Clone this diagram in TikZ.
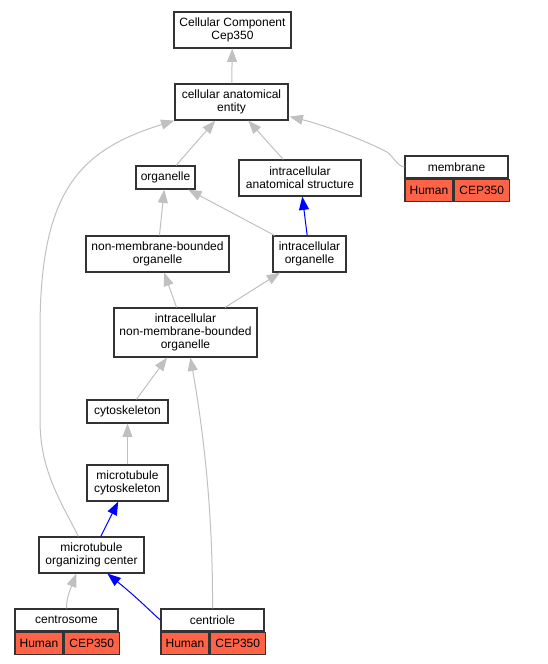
\documentclass[tikz,border=0pt]{standalone}
\usepackage{fontspec}
\setmainfont{Liberation Sans}
\usepackage{xcolor}
\usepackage{tikz}
\usetikzlibrary{positioning}
\usetikzlibrary{calc}
\usetikzlibrary{arrows.meta}
\definecolor{isagray}{RGB}{192,192,192}
\definecolor{tomato}{RGB}{255,99,71}

\begin{document}
\begin{tikzpicture}[x=0.75pt, y=-0.75pt, -{Triangle[length=10pt,width=7.5pt]}, line width=0.75pt, term/.style={rectangle, draw=black!80, line width=0.9pt, fill=white, align=center, inner sep=1pt, font=\fontsize{9}{10}\selectfont, minimum height=27pt}, title/.style={term, minimum width=77.25pt, minimum height=16.5pt}, cell/.style={term, fill=tomato, minimum height=16.5pt, anchor=north west}, isa/.style={draw=isagray}, part/.style={draw=blue}]
	\useasboundingbox (0,0) rectangle (548,664);
	\node[term, minimum width=87.75pt] (top) at (232.5,30) {Cellular Component\\Cep350};
	\node[term, minimum width=84.75pt] (cae) at (231.5,102) {cellular anatomical\\entity};
	\node[term, minimum width=44.25pt, minimum height=17.25pt] (org) at (165.5,177.5) {organelle};
	\node[term, minimum width=91.5pt] (ias) at (300,178) {intracellular\\anatomical structure};
	\node[term, minimum width=107.25pt] (nmbo) at (157.5,254) {non-membrane-bounded\\organelle};
	\node[term, minimum width=54.75pt] (io) at (309.5,254) {intracellular\\organelle};
	\node[term, minimum width=107.25pt, minimum height=36.75pt] (inmbo) at (185.5,332.5) {intracellular\\non-membrane-bounded\\organelle};
	\node[term, minimum width=60.75pt, minimum height=17.25pt] (cyto) at (127.5,411.5) {cytoskeleton};
	\node[term, minimum width=60.75pt] (mc) at (127.5,483) {microtubule\\cytoskeleton};
	\node[term, minimum width=78.75pt] (moc) at (91.5,555) {microtubule\\organizing center};
	% annotated terms
	\node[title] (memb) at (456.5,167) {membrane};
	\node[cell, minimum width=36pt] (memb-h) at (memb.south west) {Human};
	\node[cell, minimum width=41.25pt] (memb-g) at (memb-h.north east) {CEP350};
	\node[title] (csome) at (66.5,620) {centrosome};
	\node[cell, minimum width=36pt] (csome-h) at (csome.south west) {Human};
	\node[cell, minimum width=41.25pt] (csome-g) at (csome-h.north east) {CEP350};
	\node[title] (ctr) at (212.5,620) {centriole};
	\node[cell, minimum width=36pt] (ctr-h) at (ctr.south west) {Human};
	\node[cell, minimum width=41.25pt] (ctr-g) at (ctr-h.north east) {CEP350};
	\path (cae) edge[isa] (top)
	(org) edge[isa] (cae)
	(ias) edge[isa] (cae)
	(nmbo) edge[isa] (org)
	(io) edge[isa] (org)
	(io) edge[part] (ias)
	(inmbo) edge[isa] (nmbo)
	(inmbo) edge[isa] (io)
	(cyto) edge[isa] (inmbo)
	(mc) edge[isa] (cyto)
	(moc) edge[part] (mc);
	\draw[isa] (memb.west) .. controls (397,166) and (393,156) .. (387,152) .. controls (360,138) and (320,124) .. ($(cae.south east)+(1,-4)$);
	\draw[isa] ($(moc.north west)+(40,0)$) .. controls (60,500) and (40,470) .. (40,420) -- (40,330) .. controls (40,190) and (80,150) .. (cae.south west);
	\draw[isa] (csome.north) .. controls (66.5,598) and (70,590) .. ($(moc.south west)+(38,0)$);
	\draw[part] (ctr.west) .. controls (153,614) and (140,600) .. ($(moc.south west)+(69,0)$);
	\draw[isa] (ctr.north) .. controls (213,520) and (205,440) .. ($(inmbo.south west)+(77,0)$);
\end{tikzpicture}
\end{document}
